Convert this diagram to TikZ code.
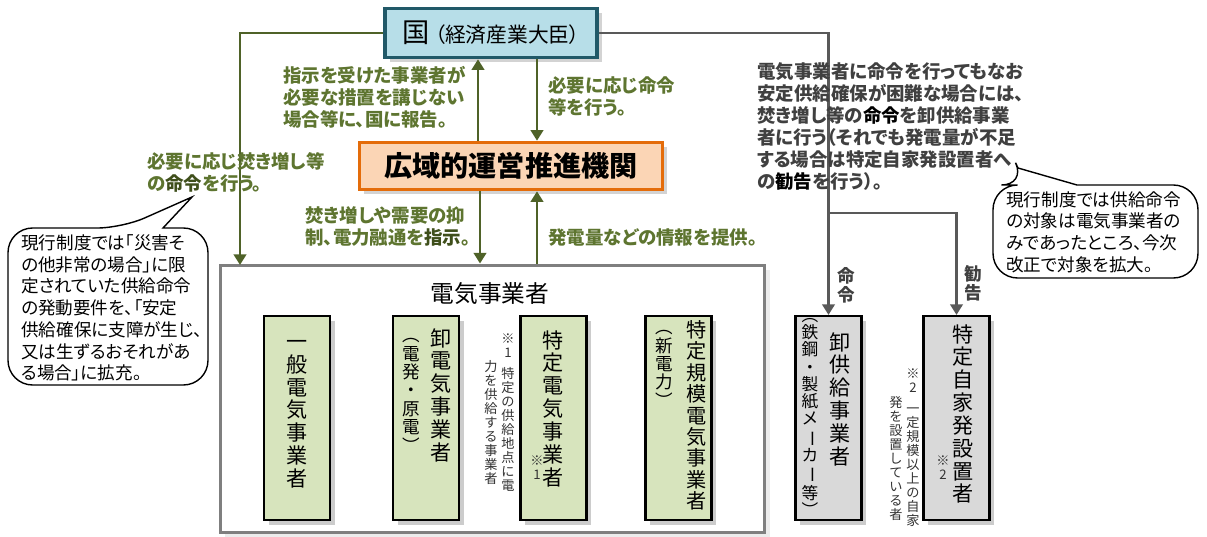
\documentclass[tikz,border=0pt]{standalone}
\usepackage{fontspec}
\usepackage{graphicx}
\setmainfont{Noto Sans CJK JP}[RawFeature=+palt]
\newfontfamily\tatefont{Noto Sans CJK JP}
\newcommand*{\chouon}{\rotatebox[origin=c]{-90}{ー}}
\usetikzlibrary{positioning,shadows,arrows.meta}
\definecolor{kunifill}{HTML}{B7DEE8}
\definecolor{kuniline}{HTML}{215968}
\definecolor{kikanfill}{HTML}{FBD5B5}
\definecolor{kikanline}{HTML}{E46C0A}
\definecolor{jigyofill}{HTML}{D7E4BD}
\definecolor{kyokyufill}{HTML}{D9D9D9}
\definecolor{waku}{HTML}{7F7F7F}
\definecolor{olivearrow}{HTML}{4F6228}
\definecolor{olivetext}{HTML}{5E7530}
\definecolor{olivedark}{HTML}{3F4F1B}
\definecolor{grayarrow}{HTML}{595959}
\definecolor{graytext}{HTML}{404040}

\begin{document}
\begin{tikzpicture}[x=0.02cm,y=-0.02cm]
	\tikzstyle{kuni}=[rectangle, draw=kuniline, line width=2pt, fill=kunifill, drop shadow={opacity=0.35}, minimum width=4.24cm, minimum height=0.98cm]
	\tikzstyle{kikan}=[rectangle, draw=kikanline, line width=2pt, fill=kikanfill, drop shadow={opacity=0.35}, minimum width=6.06cm, minimum height=0.94cm, font=\bfseries\fontsize{16}{18}\selectfont]
	\tikzstyle{jigyo}=[rectangle, draw=black, line width=1.2pt, fill=jigyofill, drop shadow={opacity=0.4}, minimum width=1.32cm, minimum height=4.08cm]
	\tikzstyle{kyokyu}=[jigyo, fill=kyokyufill]
	\tikzstyle{tate}=[anchor=north, inner sep=0pt, align=center, font=\tatefont\fontsize{12}{13}\selectfont]
	\tikzstyle{tatesub}=[tate, font=\tatefont\fontsize{10}{10.5}\selectfont]
	\tikzstyle{chuki}=[tate, text=black!80, font=\tatefont\fontsize{7.5}{8}\selectfont]
	\tikzstyle{comment}=[anchor=north west, inner sep=0pt, align=left, text=olivetext, font=\bfseries\fontsize{10.5}{12.5}\selectfont]
	\tikzstyle{fukidashi}=[draw=black, line width=0.8pt, fill=white]
	\tikzstyle{setsumei}=[anchor=north west, inner sep=0pt, align=left, font=\fontsize{10}{12.4}\selectfont]
	\tikzstyle{greenline}=[draw=olivearrow, line width=1.7pt, -{Triangle[length=6pt,width=7pt]}]
	\tikzstyle{grayline}=[draw=grayarrow, line width=1.7pt, -{Triangle[length=6pt,width=7pt]}]
	\useasboundingbox (0,0) rectangle (1207,537);

	% main boxes
	\node (kuni) [kuni] at (491,33) {{\fontsize{15.5}{17}\selectfont 国}\hspace{3pt}{\fontsize{11.8}{17}\selectfont （経済産業大臣）}};
	\node (kikan) [kikan] at (511,166) {広域的運営推進機関};
	\node (denki) [draw=waku, line width=1.7pt, fill=white, drop shadow={opacity=0.15}, minimum width=10.9cm, minimum height=5.36cm] at (492.5,399) {};
	\node (denkititle) [font=\fontsize{13.5}{15}\selectfont] at (490,294) {電気事業者};

	\node (ippan) [jigyo] at (297,418) {};
	\node (oroshi) [jigyo] at (426,418) {};
	\node (tokutei) [jigyo] at (553.5,418) {};
	\node (kibo) [jigyo] at (678.5,418) {};
	\node (oroshikyo) [kyokyu] at (828.5,418) {};
	\node (jikahatsu) [kyokyu] at (956.5,418) {};

	% vertical texts
	\node (ippant) [tate] at (297,340) {一\\般\\電\\気\\事\\業\\者};
	\node (oroshit) [tate] at (441,328) {卸\\電\\気\\事\\業\\者};
	\node (oroshis) [tatesub] at (411,338) {︵\\電\\発\\・\\原\\電\\︶};
	\node (tokuteit) [tate] at (553.5,330) {特\\定\\電\\気\\事\\業\\者};
	\node (tokuteis) [chuki] at (537,455) {※\\1};
	\node (kibot) [tate, font=\tatefont\fontsize{11.5}{12.2}\selectfont] at (697,320) {特\\定\\規\\模\\電\\気\\事\\業\\者};
	\node (kibos) [tatesub] at (664,330) {︵\\新\\電\\力\\︶};
	\node (oroshikyot) [tate] at (840,332) {卸\\供\\給\\事\\業\\者};
	\node (oroshikyos) [tatesub, font=\tatefont\fontsize{9.5}{9.8}\selectfont] at (810,318) {︵\\鉄\\鋼\\・\\製\\紙\\メ\\\chouon\\カ\\\chouon\\等\\︶};
	\node (jikahatsut) [tate] at (963,324) {特\\定\\自\\家\\発\\設\\置\\者};
	\node (jikahatsus) [chuki] at (943,455) {※\\2};

	% footnotes
	\node (chu1a) [chuki] at (508,333) {※\\1\\[4pt]特\\定\\の\\供\\給\\地\\点\\に\\電};
	\node (chu1b) [chuki] at (491,360) {力\\を\\供\\給\\す\\る\\事\\業\\者};
	\node (chu2a) [chuki] at (913,368) {※\\2\\[4pt]一\\定\\規\\模\\以\\上\\の\\自\\家};
	\node (chu2b) [chuki] at (896,396) {発\\を\\設\\置\\し\\て\\い\\る\\者};

	% connectors
	\coordinate (hidari) at (240,265);
	\coordinate (h1) at (478,0);
	\coordinate (h2) at (537,0);
	\coordinate (h3) at (480,0);
	\coordinate (bunki) at (828.5,213);
	\draw[greenline] (kuni.west) -| (hidari);
	\draw[greenline] (kikan.north -| h1) -- (kuni.south -| h1);
	\draw[greenline] (kuni.south -| h2) -- (kikan.north -| h2);
	\draw[greenline] (kikan.south -| h3) -- (denki.north -| h3);
	\draw[greenline] (denki.north -| h2) -- (kikan.south -| h2);
	\draw[grayline] (kuni.east) -| (oroshikyo.north);
	\draw[grayline] (bunki) -| (jikahatsu.north);
	\node (meirei) [font=\bfseries\fontsize{10}{11}\selectfont, text=graytext, align=center] at (846,285) {命\\令};
	\node (kankoku) [font=\bfseries\fontsize{10}{11}\selectfont, text=graytext, align=center] at (973,283) {勧\\告};

	% texts along the arrows
	\node (houkoku) [comment] at (283,66) {指示を受けた事業者が\\必要な措置を講じない\\場合等に、国に報告。};
	\node (meireito) [comment] at (548,76) {必要に応じ命令\\等を行う。};
	\node (takimashi) [comment] at (147,152) {必要に応じ焚き増し等\\の\textcolor{olivedark}{命令}を行う。};
	\node (shiji) [comment] at (305,206) {焚き増しや需要の抑\\制、電力融通を\textcolor{olivedark}{指示}。};
	\node (joho) [comment] at (548,228) {発電量などの情報を提供。};
	\node (kankokuto) [comment, text=graytext] at (757,62) {電気事業者に命令を行ってもなお\\安定供給確保が困難な場合には、\\焚き増し等の\textcolor{black}{命令}を卸供給事業\\者に行う（それでも発電量が不足\\する場合は特定自家発設置者へ\\の\textcolor{black}{勧告}を行う）。};

	% callouts
	\draw[fukidashi] (122,228) -- (192,197) -- (163,228) [rounded corners=14] -- (208,228) -- (208,385) -- (8,385) -- (8,228) -- cycle;
	\node (setsumei1) [setsumei] at (21,234) {現行制度では「災害そ\\の他非常の場合」に限\\定されていた供給命令\\の発動要件を、「安定\\供給確保に支障が生じ、\\又は生ずるおそれがあ\\る場合」に拡充。};
	\draw[fukidashi] (1026,185) -- (1018,168) -- (1077,185) [rounded corners=14] -- (1198,185) -- (1198,278) -- (993,278) -- (993,185) -- cycle;
	\node (setsumei2) [setsumei] at (1006,191) {現行制度では供給命令\\の対象は電気事業者の\\みであったところ、今次\\改正で対象を拡大。};
\end{tikzpicture}
\end{document}
